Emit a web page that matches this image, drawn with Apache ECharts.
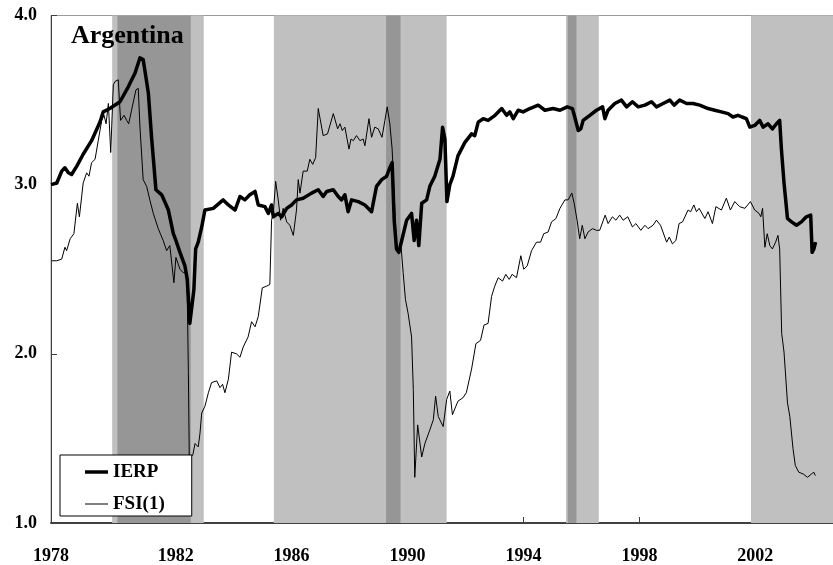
<!DOCTYPE html>
<html>
<head>
<meta charset="utf-8">
<script src="https://cdn.jsdelivr.net/npm/echarts@6/dist/echarts.min.js"></script>
<style>
  html, body { margin: 0; padding: 0; background: #fff; }
  #chart { width: 833px; height: 565px; }
</style>
</head>
<body>
<div id="chart"></div>
<script>
// x labels / ticks (first label sits at the start of the axis)
const yearLabels = [1977.7, 1982, 1986, 1990, 1994, 1998, 2002];
const yearTicks = [1982, 1986, 1990, 1994, 1998, 2002];

// shaded periods (light) and the darker sub-periods
const lightBands = [[1979.81, 1982.97], [1985.39, 1991.35], [1995.47, 1996.60], [2001.85, 2004.68]];
const darkBands = [[1979.99, 1982.52], [1989.26, 1989.76], [1995.53, 1995.83]];

// IERP (thick line)
const ierpX = [1977.70, 1977.90, 1978.07, 1978.18, 1978.30, 1978.41, 1978.59, 1978.81, 1979.10, 1979.39,
  1979.50, 1979.73, 1980.08, 1980.37, 1980.60, 1980.77, 1980.88, 1981.06, 1981.17, 1981.32,
  1981.52, 1981.75, 1981.92, 1982.01, 1982.15, 1982.32, 1982.40, 1982.49, 1982.55, 1982.63,
  1982.69, 1982.78, 1982.90, 1983.01, 1983.30, 1983.64, 1983.82, 1984.05, 1984.22, 1984.39,
  1984.56, 1984.74, 1984.85, 1985.08, 1985.20, 1985.31, 1985.37, 1985.54, 1985.66, 1985.83,
  1986.00, 1986.17, 1986.40, 1986.69, 1986.92, 1987.09, 1987.21, 1987.44, 1987.61, 1987.72,
  1987.84, 1987.95, 1988.07, 1988.30, 1988.53, 1988.76, 1988.93, 1989.11, 1989.28, 1989.39,
  1989.47, 1989.54, 1989.62, 1989.70, 1989.80, 1989.97, 1990.14, 1990.23, 1990.31, 1990.39,
  1990.49, 1990.66, 1990.77, 1990.94, 1991.12, 1991.21, 1991.29, 1991.36, 1991.46, 1991.57,
  1991.74, 1991.98, 1992.21, 1992.32, 1992.44, 1992.61, 1992.78, 1993.02, 1993.25, 1993.42,
  1993.53, 1993.65, 1993.82, 1993.99, 1994.22, 1994.51, 1994.74, 1995.02, 1995.26, 1995.51,
  1995.69, 1995.77, 1995.89, 1995.98, 1996.06, 1996.29, 1996.52, 1996.73, 1996.81, 1996.92,
  1997.15, 1997.38, 1997.56, 1997.76, 1997.96, 1998.19, 1998.42, 1998.59, 1998.82, 1999.05,
  1999.20, 1999.39, 1999.63, 1999.85, 2000.08, 2000.37, 2000.60, 2000.83, 2001.06, 2001.23,
  2001.40, 2001.54, 2001.69, 2001.81, 2001.98, 2002.15, 2002.27, 2002.44, 2002.59, 2002.73,
  2002.84, 2002.90, 2002.99, 2003.11, 2003.25, 2003.42, 2003.59, 2003.76, 2003.91, 2003.96,
  2004.02, 2004.08];
const ierpY = [3.00, 3.01, 3.08, 3.10, 3.07, 3.06, 3.11, 3.18, 3.26, 3.37,
  3.43, 3.45, 3.49, 3.58, 3.66, 3.75, 3.74, 3.54, 3.28, 2.97,
  2.94, 2.85, 2.71, 2.67, 2.60, 2.52, 2.44, 2.18, 2.17, 2.38,
  2.62, 2.66, 2.75, 2.85, 2.86, 2.91, 2.88, 2.85, 2.93, 2.91,
  2.94, 2.96, 2.88, 2.87, 2.83, 2.88, 2.81, 2.83, 2.81, 2.86,
  2.88, 2.91, 2.92, 2.95, 2.97, 2.93, 2.96, 2.97, 2.93, 2.91,
  2.94, 2.84, 2.91, 2.90, 2.88, 2.84, 2.99, 3.03, 3.05, 3.10,
  3.13, 2.79, 2.62, 2.60, 2.67, 2.79, 2.83, 2.67, 2.79, 2.64,
  2.89, 2.91, 2.99, 3.05, 3.15, 3.34, 3.27, 2.90, 3.00, 3.05,
  3.17, 3.25, 3.30, 3.29, 3.37, 3.39, 3.38, 3.41, 3.45, 3.41,
  3.43, 3.39, 3.44, 3.43, 3.45, 3.47, 3.44, 3.45, 3.44, 3.46,
  3.45, 3.40, 3.32, 3.33, 3.38, 3.41, 3.44, 3.46, 3.39, 3.44,
  3.48, 3.50, 3.46, 3.49, 3.46, 3.47, 3.49, 3.46, 3.48, 3.50,
  3.47, 3.50, 3.48, 3.48, 3.47, 3.45, 3.44, 3.43, 3.42, 3.40,
  3.41, 3.40, 3.39, 3.34, 3.35, 3.38, 3.34, 3.36, 3.33, 3.36,
  3.38, 3.21, 3.01, 2.80, 2.78, 2.76, 2.78, 2.81, 2.82, 2.60,
  2.62, 2.66];

// FSI(1) (thin line)
const fsiX = [1977.72, 1977.90, 1978.07, 1978.18, 1978.24, 1978.36, 1978.49, 1978.61, 1978.68, 1978.81,
  1978.93, 1979.01, 1979.10, 1979.22, 1979.33, 1979.45, 1979.53, 1979.60, 1979.68, 1979.76,
  1979.85, 1979.91, 1980.02, 1980.10, 1980.22, 1980.31, 1980.38, 1980.48, 1980.63, 1980.71,
  1980.77, 1980.88, 1981.00, 1981.11, 1981.23, 1981.40, 1981.57, 1981.69, 1981.80, 1981.94,
  1982.01, 1982.15, 1982.26, 1982.36, 1982.40, 1982.44, 1982.47, 1982.59, 1982.67, 1982.78,
  1982.84, 1982.90, 1983.01, 1983.13, 1983.24, 1983.42, 1983.53, 1983.62, 1983.70, 1983.82,
  1983.93, 1984.10, 1984.22, 1984.33, 1984.50, 1984.62, 1984.74, 1984.85, 1984.99, 1985.14,
  1985.25, 1985.31, 1985.37, 1985.45, 1985.54, 1985.62, 1985.71, 1985.83, 1985.94, 1986.06,
  1986.17, 1986.23, 1986.29, 1986.40, 1986.54, 1986.63, 1986.73, 1986.83, 1986.92, 1987.09,
  1987.24, 1987.44, 1987.59, 1987.67, 1987.75, 1987.84, 1987.98, 1988.05, 1988.13, 1988.24,
  1988.36, 1988.47, 1988.53, 1988.67, 1988.76, 1988.87, 1988.99, 1989.12, 1989.22, 1989.30,
  1989.39, 1989.47, 1989.54, 1989.62, 1989.70, 1989.77, 1989.85, 1989.93, 1990.02, 1990.14,
  1990.20, 1990.25, 1990.35, 1990.49, 1990.60, 1990.77, 1990.89, 1990.97, 1991.06, 1991.23,
  1991.35, 1991.46, 1991.55, 1991.74, 1991.91, 1992.03, 1992.21, 1992.36, 1992.52, 1992.64,
  1992.78, 1992.90, 1993.01, 1993.13, 1993.28, 1993.39, 1993.51, 1993.61, 1993.76, 1993.91,
  1994.01, 1994.13, 1994.28, 1994.45, 1994.59, 1994.70, 1994.85, 1994.97, 1995.12, 1995.26,
  1995.43, 1995.54, 1995.67, 1995.75, 1995.85, 1995.94, 1996.03, 1996.12, 1996.23, 1996.38,
  1996.52, 1996.63, 1996.82, 1996.92, 1997.07, 1997.19, 1997.32, 1997.44, 1997.60, 1997.76,
  1997.88, 1998.05, 1998.19, 1998.30, 1998.47, 1998.59, 1998.73, 1998.94, 1999.03, 1999.14,
  1999.26, 1999.37, 1999.49, 1999.68, 1999.77, 1999.88, 1999.97, 2000.06, 2000.26, 2000.37,
  2000.52, 2000.64, 2000.83, 2001.00, 2001.14, 2001.29, 2001.46, 2001.64, 2001.83, 2001.98,
  2002.13, 2002.19, 2002.25, 2002.33, 2002.41, 2002.50, 2002.59, 2002.70, 2002.78, 2002.84,
  2002.91, 2002.99, 2003.11, 2003.19, 2003.30, 2003.38, 2003.50, 2003.65, 2003.80, 2003.94,
  2004.02, 2004.07];
const fsiY = [2.55, 2.55, 2.56, 2.63, 2.61, 2.68, 2.71, 2.89, 2.81, 3.01,
  3.07, 3.05, 3.13, 3.15, 3.26, 3.38, 3.41, 3.36, 3.48, 3.19,
  3.59, 3.61, 3.62, 3.38, 3.41, 3.38, 3.36, 3.44, 3.56, 3.57,
  3.34, 3.03, 2.99, 2.91, 2.83, 2.74, 2.67, 2.61, 2.64, 2.42,
  2.57, 2.50, 2.48, 2.48, 2.36, 1.89, 1.40, 1.40, 1.47, 1.45,
  1.53, 1.65, 1.69, 1.77, 1.83, 1.84, 1.80, 1.82, 1.77, 1.85,
  2.01, 2.00, 1.98, 2.04, 2.10, 2.19, 2.16, 2.22, 2.39, 2.40,
  2.41, 2.79, 2.83, 3.02, 2.91, 2.79, 2.86, 2.78, 2.76, 2.70,
  2.85, 3.03, 2.95, 3.08, 3.08, 3.15, 3.12, 3.16, 3.45, 3.29,
  3.30, 3.42, 3.33, 3.36, 3.32, 3.34, 3.21, 3.27, 3.26, 3.29,
  3.26, 3.27, 3.23, 3.39, 3.28, 3.34, 3.33, 3.28, 3.38, 3.46,
  3.36, 3.21, 2.93, 2.64, 2.60, 2.65, 2.48, 2.32, 2.24, 2.10,
  1.79, 1.27, 1.58, 1.39, 1.47, 1.55, 1.61, 1.75, 1.63, 1.57,
  1.73, 1.78, 1.64, 1.72, 1.74, 1.77, 1.91, 2.06, 2.08, 2.17,
  2.18, 2.34, 2.40, 2.45, 2.43, 2.47, 2.44, 2.47, 2.45, 2.58,
  2.50, 2.52, 2.61, 2.66, 2.66, 2.71, 2.72, 2.78, 2.80, 2.86,
  2.91, 2.91, 2.95, 2.89, 2.79, 2.68, 2.76, 2.68, 2.72, 2.74,
  2.73, 2.73, 2.82, 2.77, 2.81, 2.79, 2.82, 2.79, 2.81, 2.75,
  2.77, 2.73, 2.76, 2.74, 2.76, 2.79, 2.76, 2.66, 2.69, 2.65,
  2.67, 2.77, 2.78, 2.85, 2.84, 2.88, 2.84, 2.86, 2.80, 2.84,
  2.77, 2.87, 2.85, 2.92, 2.85, 2.90, 2.87, 2.86, 2.90, 2.85,
  2.83, 2.81, 2.86, 2.63, 2.71, 2.64, 2.62, 2.66, 2.70, 2.62,
  2.12, 2.01, 1.71, 1.63, 1.44, 1.34, 1.30, 1.29, 1.27, 1.29,
  1.30, 1.28];

const font = '"Liberation Serif", "Times New Roman", serif';

function pairs(xs, ys) {
  return xs.map((x, i) => [x, ys[i]]);
}

let myChart = echarts.init(document.getElementById("chart"));

let bandData = [];
lightBands.forEach((b) => {
  bandData.push([{ xAxis: b[0], itemStyle: { color: "#c0c0c0" } }, { xAxis: b[1] }]);
});
darkBands.forEach((b) => {
  bandData.push([{ xAxis: b[0], itemStyle: { color: "#969696" } }, { xAxis: b[1] }]);
});

let option = {
  animation: false,
  backgroundColor: "#fff",
  grid: {
    left: 51,
    right: 0,
    top: 15.5,
    bottom: 41.3,
    show: true,
    borderColor: "#999",
    borderWidth: 1,
  },
  graphic: [
    {
      type: "text",
      left: 71,
      top: 23,
      z: 100,
      style: {
        text: "Argentina",
        font: 'bold 26px ' + font,
        fill: "#000",
      },
    },
  ],
  legend: {
    data: [
      { name: "IERP", icon: "path://M0,0H23V3.5H0Z" },
      { name: "FSI(1)", icon: "path://M0,0H23V1H0Z" },
    ],
    orient: "vertical",
    left: 60,
    top: 455,
    padding: [7, 27, 2, 25],
    itemWidth: 23,
    itemHeight: 14,
    itemGap: 12,
    backgroundColor: "#fff",
    borderColor: "#000",
    borderWidth: 1,
    borderRadius: 0,
    textStyle: {
      fontFamily: font,
      fontWeight: "bold",
      fontSize: 19,
      lineHeight: 20,
      color: "#000",
    },
  },
  xAxis: {
    type: "value",
    min: 1977.7,
    max: 2004.68,
    splitLine: { show: false },
    axisLine: { onZero: false, lineStyle: { color: "#404040", width: 2 } },
    axisTick: {
      inside: true,
      length: 6,
      customValues: yearTicks,
      lineStyle: { color: "#404040" },
    },
    axisLabel: {
      customValues: yearLabels,
      formatter: (v) => String(Math.round(v)),
      margin: 24,
      fontFamily: font,
      fontWeight: "bold",
      fontSize: 18,
      color: "#000",
    },
  },
  yAxis: {
    type: "value",
    min: 1,
    max: 4,
    interval: 1,
    splitLine: { show: false },
    axisLine: { show: true, lineStyle: { color: "#404040", width: 1 } },
    axisTick: { show: true, inside: true, length: 6, lineStyle: { color: "#404040" } },
    axisLabel: {
      formatter: (v) => v.toFixed(1),
      margin: 14,
      fontFamily: font,
      fontWeight: "bold",
      fontSize: 18,
      color: "#000",
    },
  },
  series: [
    {
      name: "bands",
      type: "line",
      z: 1,
      silent: true,
      symbol: "none",
      data: [[1977.7, 1], [1977.71, 1]],
      lineStyle: { width: 0, opacity: 0 },
      markArea: {
        silent: true,
        data: bandData,
      },
    },
    {
      name: "FSI(1)",
      type: "line",
      z: 3,
      symbol: "none",
      data: pairs(fsiX, fsiY),
      lineStyle: { color: "#000", width: 1 },
      itemStyle: { color: "#000" },
    },
    {
      name: "IERP",
      type: "line",
      z: 4,
      symbol: "none",
      data: pairs(ierpX, ierpY),
      lineStyle: { color: "#000", width: 3.5, join: "round" },
      itemStyle: { color: "#000" },
    },
  ],
};

myChart.setOption(option);
</script>
</body>
</html>
